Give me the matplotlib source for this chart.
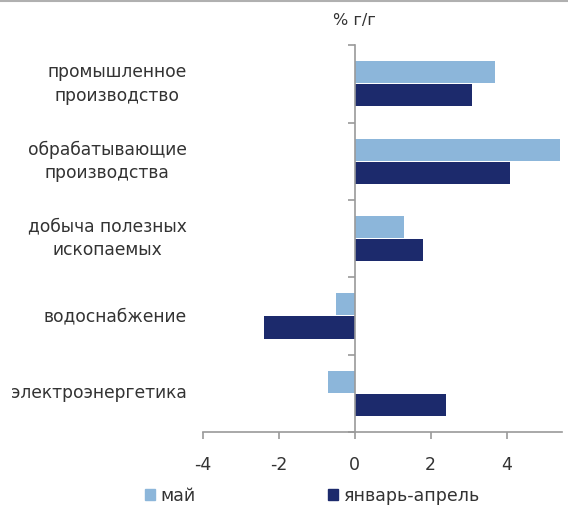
import matplotlib
matplotlib.use("Agg")
import matplotlib.pyplot as plt
from matplotlib.patches import Patch
from matplotlib.transforms import blended_transform_factory
import numpy as np

categories = [
    "промышленное\nпроизводство",
    "обрабатывающие\nпроизводства",
    "добыча полезных\nископаемых",
    "водоснабжение",
    "электроэнергетика",
]
may = [3.7, 5.4, 1.3, -0.5, -0.7]
jan_apr = [3.1, 4.1, 1.8, -2.4, 2.4]
series_names = ["май", "январь-апрель"]
x_ticks = [-4, -2, 0, 2, 4]
unit_label = "% г/г"

light = "#8cb6da"
dark = "#1c2a6c"
text_color = "#333333"
axis_color = "#9a9a9a"

plt.rcParams["font.family"] = ["DejaVu Sans"]

fig = plt.figure(figsize=(5.68, 5.13), dpi=100)
ax = fig.add_axes([0.357, 0.158, 0.632, 0.754])

y = np.arange(len(categories))
h = 0.285
ax.barh(y - 0.15, may, height=h, color=light, zorder=2)
ax.barh(y + 0.15, jan_apr, height=h, color=dark, zorder=2)

ax.set_xlim(-4, 5.45)
ax.set_ylim(len(categories) - 0.5, -0.5)

for s in ["top", "right"]:
    ax.spines[s].set_visible(False)
ax.spines["left"].set_position(("data", 0))
ax.spines["left"].set_color(axis_color)
ax.spines["left"].set_linewidth(1.2)
ax.spines["bottom"].set_color(axis_color)
ax.spines["bottom"].set_linewidth(1.2)
ax.spines["left"].set_zorder(3)

ax.set_yticks(np.arange(len(categories) + 1) - 0.5)
ax.set_yticklabels([])
ax.tick_params(axis="y", length=5, color=axis_color, width=1.2, direction="out")

ax.set_xticks(x_ticks)
ax.set_xticklabels([str(t) for t in x_ticks])
ax.tick_params(axis="x", length=5, color=axis_color, width=1.2, direction="out",
               labelsize=12.5, labelcolor=text_color, pad=12)

trans = blended_transform_factory(ax.transAxes, ax.transData)
for yi, name in zip(y, categories):
    ax.text(-0.045, yi, name, transform=trans, ha="right", va="center",
            multialignment="center", fontsize=12.3, color=text_color,
            linespacing=1.4)

ax.text(0, -0.72, unit_label, transform=ax.transData, ha="center", va="bottom",
        fontsize=11.5, color=text_color)

handles = [Patch(color=light), Patch(color=dark)]
fig.legend(handles, series_names, loc="center", bbox_to_anchor=(0.55, 0.033),
           ncol=2, frameon=False, fontsize=12.5, labelcolor=text_color,
           handlelength=0.6, handleheight=0.6, handletextpad=0.3,
           columnspacing=7.6)

fig.add_artist(plt.Line2D([0, 1], [0.998, 0.998], transform=fig.transFigure,
                          color="#b0b0b0", linewidth=1.5))

fig.savefig("out.png", dpi=100, facecolor="white")
